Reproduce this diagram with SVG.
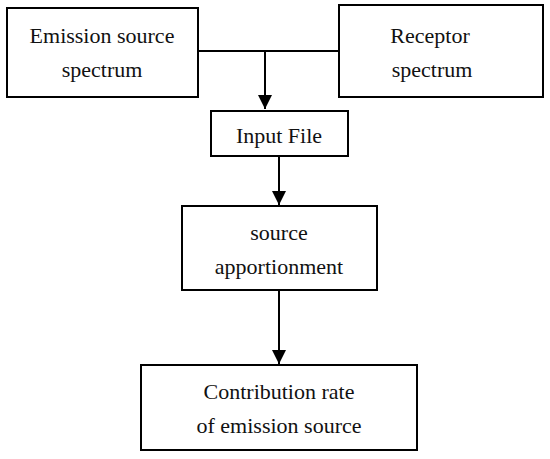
<svg xmlns="http://www.w3.org/2000/svg" width="550" height="459" viewBox="0 0 550 459">
<style>
.n{fill:#fff;stroke:#000;stroke-width:2}
text{font-family:"Liberation Serif","Times New Roman",serif;font-size:22px;fill:#111;text-anchor:middle}
.c{stroke:#000;stroke-width:2;fill:none}
</style>
<defs>
<marker id="ah" viewBox="0 0 10 10" refX="10" refY="5" markerWidth="7" markerHeight="7" markerUnits="strokeWidth" orient="auto">
<path d="M0,0 L10,5 L0,10 z" fill="#000"/>
</marker>
</defs>
<rect width="550" height="459" fill="#fff"/>
<g id="emission">
<rect class="n" x="7" y="8" width="191" height="89"/>
<text x="102" y="43">Emission source</text>
<text x="102" y="77">spectrum</text>
</g>
<g id="receptor">
<rect class="n" x="339" y="5" width="204" height="92"/>
<text x="430" y="43">Receptor</text>
<text x="432" y="77">spectrum</text>
</g>
<g id="input">
<rect class="n" x="211" y="111" width="137" height="45"/>
<text x="279" y="143">Input File</text>
</g>
<g id="apportionment">
<rect class="n" x="182" y="206" width="195" height="84"/>
<text x="279" y="240">source</text>
<text x="279" y="274">apportionment</text>
</g>
<g id="contribution">
<rect class="n" x="141" y="365" width="276" height="85"/>
<text x="279" y="399">Contribution rate</text>
<text x="279" y="433">of emission source</text>
</g>
<g id="connectors">
<path class="c" d="M198,51 H339"/>
<path class="c" d="M265,51 V109" marker-end="url(#ah)"/>
<path class="c" d="M279,156 V205" marker-end="url(#ah)"/>
<path class="c" d="M279,290 V364" marker-end="url(#ah)"/>
</g>
</svg>
